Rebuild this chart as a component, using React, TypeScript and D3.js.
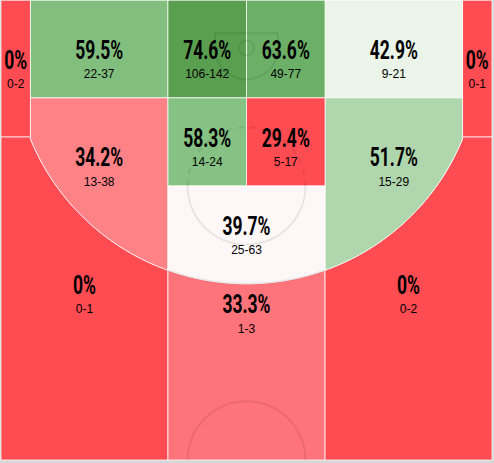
import React from "react";
import * as d3 from "d3";

// ---- data ----
const ZONES = [
  "Left Corner 3", "Right Corner 3", "Left Above Break 3", "Center Above Break 3", "Right Above Break 3",
  "Left Baseline Mid", "Right Baseline Mid", "Left Wing Mid", "Right Wing Mid",
  "Rim Left", "Rim Right", "Paint Left", "Paint Right", "Top of Key Mid",
];
const MADE = [0, 0, 0, 1, 0, 22, 9, 13, 15, 106, 49, 14, 5, 25];
const ATTEMPTS = [2, 1, 1, 3, 2, 37, 21, 38, 29, 142, 77, 24, 17, 63];

// ---- styles ----
const ZONE_COLORS = [
  "#ff4b52", "#ff4b52", "#ff4b52", "#ff737a", "#ff4b52",
  "#82bf7f", "#eaf4e8", "#ff8287", "#b0d6ad",
  "#5a9e50", "#6cb067", "#86c283", "#ff4b52", "#fdf7f7",
];

// ---- court geometry (feet) ----
const W = 494, H = 463;
const x = d3.scaleLinear().domain([0, 50]).range([1, 492]);
const y = d3.scaleLinear().domain([0, 47]).range([0, 460]);
const BX = 25, BY = 5.25, R3 = 23.75;
const arcY = (xf: number) => BY + Math.sqrt(Math.max(0, R3 * R3 - (xf - BX) * (xf - BX)));
const arcPts = (x0: number, x1: number): [number, number][] => {
  const n = 120;
  const pts: [number, number][] = [];
  for (let i = 0; i <= n; i++) {
    const xf = x0 + ((x1 - x0) * i) / n;
    pts.push([xf, arcY(xf)]);
  }
  return pts;
};
const rect = (x0: number, y0: number, x1: number, y1: number): [number, number][] => [
  [x0, y0], [x1, y0], [x1, y1], [x0, y1],
];

const ZONE_SHAPES: [number, number][][] = [
  rect(0, 0, 3, 14),
  rect(47, 0, 50, 14),
  [[0, 14], [3, 14], ...arcPts(3, 17), [17, 47], [0, 47]],
  [...arcPts(17, 33), [33, 47], [17, 47]],
  [...arcPts(33, 47), [47, 14], [50, 14], [50, 47], [33, 47]],
  rect(3, 0, 17, 10),
  rect(33, 0, 47, 10),
  [[3, 10], [17, 10], ...arcPts(17, 3)],
  [[33, 10], [47, 10], ...arcPts(47, 33)],
  rect(17, 0, 25, 10),
  rect(25, 0, 33, 10),
  rect(17, 10, 25, 19),
  rect(25, 10, 33, 19),
  [[17, 19], [33, 19], ...arcPts(33, 17)],
];
// label anchor: [x center, pct baseline] in feet
const LABEL_POS: [number, number][] = [
  [1.5, 7], [48.5, 7], [8.5, 30], [25, 32], [41.5, 30],
  [10, 6], [40, 6], [10, 17], [40, 17],
  [21, 6], [29, 6], [21, 15], [29, 15], [25, 24],
];

const line = d3.line<[number, number]>().x((d) => x(d[0])).y((d) => y(d[1]));

const fmtPct = (m: number, a: number) => {
  const p = (m / a) * 100;
  return p === 0 ? "0%" : `${p.toFixed(1)}%`;
};

const circlePts = (cx: number, cy: number, r: number, a0: number, a1: number): [number, number][] => {
  const n = 80;
  const pts: [number, number][] = [];
  for (let i = 0; i <= n; i++) {
    const a = a0 + ((a1 - a0) * i) / n;
    pts.push([cx + r * Math.cos(a), cy + r * Math.sin(a)]);
  }
  return pts;
};

export default function App() {
  const courtLine = { fill: "none", stroke: "#000", strokeOpacity: 0.08, strokeWidth: 2 };
  return (
    <svg width={W} height={H} style={{ position: "absolute", left: 0, top: 0, display: "block" }}>
      <rect x={0} y={0} width={W} height={H} fill="#d6d6d6" />
      <rect x={x(0)} y={y(0)} width={x(50) - x(0)} height={y(47) - y(0)} fill="#fff" />
      {ZONE_SHAPES.map((pts, i) => (
        <path
          key={ZONES[i]}
          d={line(pts) + "Z"}
          fill={ZONE_COLORS[i]}
          stroke="#fff"
          strokeOpacity={0.75}
          strokeWidth={1}
        />
      ))}
      {/* court markings */}
      <g {...courtLine}>
        <path d={line([[21.8, 3.4], [28.2, 3.4]])!} />
        <path d={line([[21.8, 3.4], [21.8, 4.9], ...circlePts(25, 4.9, 3.2, Math.PI, 0), [28.2, 3.4]])!} />
        <path d={line(circlePts(25, 4.9, 0.75, 0, 2 * Math.PI))!} />
        <path d={line(circlePts(25, 19, 6, 0, Math.PI))!} />
        <path d={line(circlePts(25, 19, 6, Math.PI, 2 * Math.PI))!} strokeDasharray="6,6" />
        <path d={line(circlePts(25, 47, 6, Math.PI, 2 * Math.PI))!} />
        <path d={line(arcPts(17, 33))!} />
      </g>
      <line x1={x(0)} x2={x(50)} y1={0.5} y2={0.5} stroke="#fff" strokeOpacity={0.4} />
      {ZONES.map((z, i) => {
        const [lx, ly] = LABEL_POS[i];
        return (
          <g key={z + "-label"}>
            <text
              transform={`translate(${x(lx)},${y(ly)}) scale(0.7,1)`}
              textAnchor="middle"
              fontFamily="Roboto, 'Liberation Sans', sans-serif"
              fontWeight={700}
              fontSize={25}
              fill="#000"
            >
              {fmtPct(MADE[i], ATTEMPTS[i])}
            </text>
            <text
              x={x(lx)}
              y={y(ly + 2)}
              textAnchor="middle"
              fontFamily="'Liberation Sans', Arial, sans-serif"
              fontSize={12}
              fill="#000"
            >
              {`${MADE[i]}-${ATTEMPTS[i]}`}
            </text>
          </g>
        );
      })}
    </svg>
  );
}
